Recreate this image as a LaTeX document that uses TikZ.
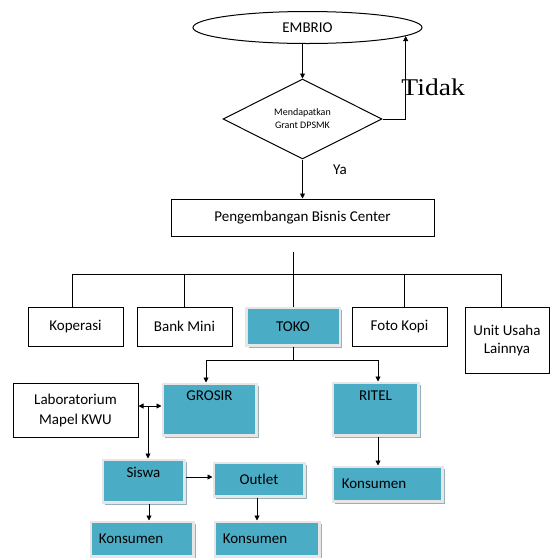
\documentclass[tikz,border=0pt]{standalone}
\usepackage{fontspec}
\usepackage{graphicx}
\setmainfont{Carlito}
\newfontfamily\serifbesar{Liberation Serif}
\usetikzlibrary{arrows.meta,shapes.geometric,shadows}
\definecolor{biru}{HTML}{4BACC6}
\definecolor{tepi}{HTML}{E6E6E6}
\definecolor{bayang}{HTML}{98B0BA}
\begin{document}
\begin{tikzpicture}[x=1pt,y=-1pt,line width=0.9pt,>={Triangle[length=5pt,width=5pt]},
  font=\fontsize{15}{18}\selectfont,
  kotak/.style={draw,rectangle,line width=1pt,inner sep=0pt,align=center},
  blok/.style={rectangle,fill=biru,draw=tepi,line width=2.5pt,inner sep=0pt,align=center,
    drop shadow={shadow xshift=2.5pt,shadow yshift=-2.5pt,fill=bayang,opacity=1}},
  konsumen/.style={blok,inner xsep=8pt,align=left,minimum height=34.5pt}]
\useasboundingbox (0,0) rectangle (551,558);

\node[draw,ellipse,line width=1pt,minimum width=229pt,minimum height=32pt,inner sep=0pt] (embrio) at (307.5,27.5) {EMBRIO};
\node[draw,diamond,line width=1pt,minimum width=159pt,minimum height=80pt,inner sep=0pt,align=center,
  font=\fontsize{10}{13}\selectfont] (dpsmk) at (302.5,119) {Mendapatkan\\Grant DPSMK};
\node[kotak,minimum width=263pt,minimum height=37pt] (pbc) at (302.5,217.5) {Pengembangan Bisnis Center};
\node (ya) at (340,170) {Ya};
\node[anchor=base west,inner sep=0pt,font=\serifbesar\fontsize{24}{28}\selectfont] (tidak) at (401,95) {\scalebox{1.15}[1]{Tidak}};

\node[kotak,minimum width=95pt,minimum height=39pt] (koperasi) at (75.5,326.5) {Koperasi};
\node[kotak,minimum width=95pt,minimum height=39pt] (bankmini) at (184.5,326.5) {Bank Mini};
\node[blok,minimum width=93.5pt,minimum height=37.5pt] (toko) at (293,326.5) {TOKO};
\node[kotak,minimum width=95pt,minimum height=39pt] (fotokopi) at (399.5,326.5) {Foto Kopi};
\node[kotak,minimum width=84pt,minimum height=66pt] (unit) at (507,340) {Unit Usaha\\Lainnya};

\node[kotak,minimum width=125pt,minimum height=54pt,font=\fontsize{15}{20}\selectfont] (lab) at (75.5,410) {Laboratorium\\Mapel KWU};
\node[blok,minimum width=93.5pt,minimum height=51.5pt,text height=17pt,text depth=34.5pt] (grosir) at (209.5,409.5) {GROSIR};
\node[blok,minimum width=85.5pt,minimum height=52.5pt,text height=18pt,text depth=34.5pt] (ritel) at (375.5,409) {RITEL};
\node[blok,minimum width=81.5pt,minimum height=42.5pt,text height=18pt,text depth=24.5pt] (siswa) at (143.5,481) {Siswa};
\node[blok,minimum width=90.5pt,minimum height=33.5pt] (outlet) at (259,479.5) {Outlet};
\node[konsumen,minimum width=102.5pt,text width=86.5pt] (k1) at (142,539) {Konsumen};
\node[konsumen,minimum width=104.5pt,text width=88.5pt] (k2) at (267,539) {Konsumen};
\node[konsumen,minimum width=109.5pt,text width=91.5pt,inner xsep=9pt] (k3) at (387.5,484) {Konsumen};

\coordinate (cabang) at (293,252);
\coordinate (busL) at (72,274);
\coordinate (busR) at (501,274);
\coordinate (fk) at (404,274);
\coordinate (tokobawah) at (293,360);
\coordinate (simpang) at (148,406);

\draw[->] (embrio.south -| dpsmk.north) -- (dpsmk.north);
\draw[->] (dpsmk.east) -| (embrio.-5);
\draw[->] (dpsmk.south) -- (dpsmk.south |- pbc.north);

\draw (cabang) -- (toko.north);
\draw (koperasi.north -| busL) -- (busL) -- (busR) -- (unit.north -| busR);
\draw (bankmini.north) -- (bankmini.north |- busL);
\draw (fotokopi.north -| fk) -- (fk);

\draw (toko.south) -- (tokobawah);
\draw[->] (tokobawah) -| ([xshift=-3.5pt]grosir.north);
\draw[->] (tokobawah) -| ([xshift=2.5pt]ritel.north);
\draw[<->] (lab.east |- simpang) -- (grosir.west |- simpang);
\draw[->] (simpang) -- (simpang |- siswa.north);
\draw[->] ([yshift=4pt]siswa.east) -- ([yshift=4pt]siswa.east -| outlet.west);
\draw[->] ([xshift=5.5pt]siswa.south) -- ([xshift=5.5pt]siswa.south |- k1.north);
\draw[->] ([xshift=-2pt]outlet.south) -- ([xshift=-2pt]outlet.south |- k2.north);
\draw[->] ([xshift=2.5pt]ritel.south) -- ([xshift=2.5pt]ritel.south |- k3.north);
\end{tikzpicture}
\end{document}
